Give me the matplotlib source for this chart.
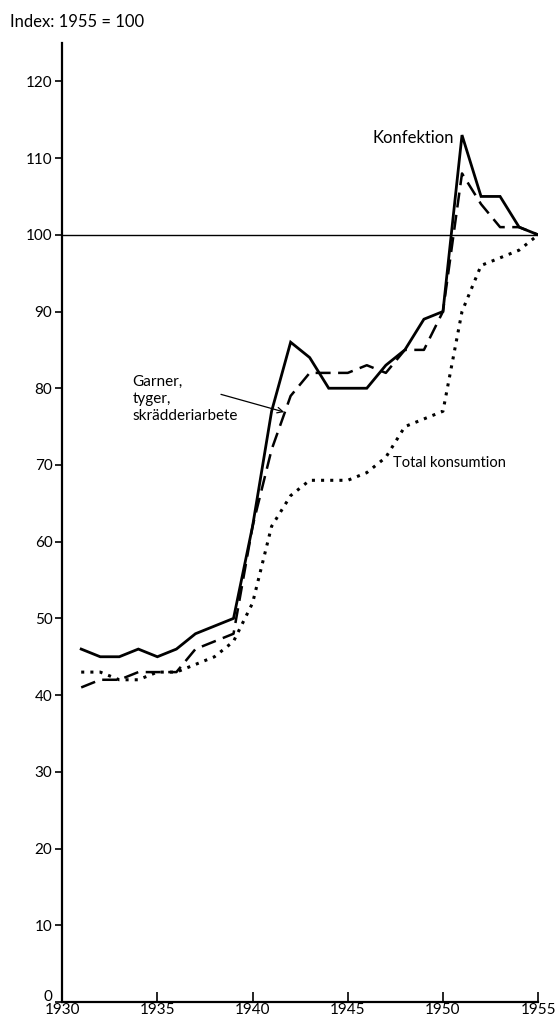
import matplotlib
matplotlib.use("Agg")
import matplotlib.pyplot as plt
import matplotlib.transforms as mtransforms

plt.rcParams['font.family'] = ['Lato', 'DejaVu Sans']

years = list(range(1931, 1956))

# Konfektion
konfektion = [46, 45, 45, 46, 45, 46, 48, 49, 50, 62, 77, 86, 84, 80, 80, 80,
              83, 85, 89, 90, 113, 105, 105, 101, 100]
# Garner, tyger, skrädderiarbete
garner = [41, 42, 42, 43, 43, 43, 46, 47, 48, 62, 72, 79, 82, 82, 82, 83,
          82, 85, 85, 90, 108, 104, 101, 101, 100]
# Total konsumtion
total = [43, 43, 42, 42, 43, 43, 44, 45, 47, 52, 62, 66, 68, 68, 68, 69,
         71, 75, 76, 77, 90, 96, 97, 98, 100]

xticks = [1930, 1935, 1940, 1945, 1950, 1955]
yticks = list(range(0, 121, 10))

fig = plt.figure(figsize=(5.6, 10.24), dpi=100)
ax = fig.add_axes([0.111, 0.0215, 0.85, 0.9365])

ax.axhline(100, color='black', lw=1.0)
ax.plot(years, konfektion, color='black', lw=2.0, solid_joinstyle='miter')
ax.plot(years, garner, color='black', lw=1.8, dashes=(6, 3))
ax.plot(years, total, color='black', lw=2.2, dashes=(1, 2))

ax.set_xlim(1930, 1955)
ax.set_ylim(0, 125)
ax.set_xticks(xticks)
ax.set_yticks(yticks)
ax.spines['top'].set_visible(False)
ax.spines['right'].set_visible(False)
for s in ('left', 'bottom'):
    ax.spines[s].set_linewidth(1.6)
ax.tick_params(axis='x', direction='in', length=7, width=1.2, labelsize=11, pad=1)
ax.tick_params(axis='y', direction='out', length=5, width=1.2, labelsize=11, pad=2)

# lift the "0" a little so it clears the year labels
lbl0 = ax.get_yticklabels()[0]
lbl0.set_transform(lbl0.get_transform() +
                   mtransforms.ScaledTranslation(0, 5 / 72, fig.dpi_scale_trans))

ax.text(1950.6, 112.6, 'Konfektion', ha='right', va='center', fontsize=12)
ax.text(1933.7, 81.8, 'Garner,\ntyger,\nskrädderiarbete', ha='left', va='top',
        fontsize=11, linespacing=1.3)
ax.text(1947.4, 70.2, 'Total konsumtion', ha='left', va='center', fontsize=10.5)
ax.annotate('', xy=(1941.8, 76.8), xytext=(1938.2, 79.3),
            arrowprops=dict(arrowstyle='->', color='black', lw=0.9))

fig.text(0.018, 0.9785, 'Index: 1955 = 100', ha='left', va='center', fontsize=12)

fig.savefig('out.png', dpi=100)
